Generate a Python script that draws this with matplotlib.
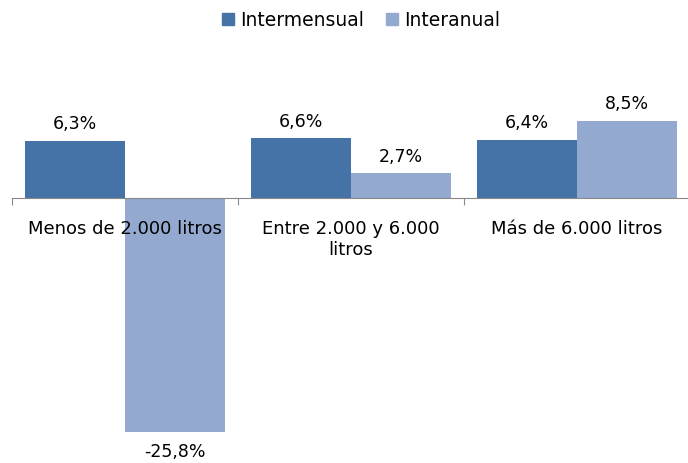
import matplotlib
matplotlib.use("Agg")
import matplotlib.pyplot as plt
import numpy as np
from matplotlib.patches import Patch

categories = ["Menos de 2.000 litros", "Entre 2.000 y 6.000\nlitros", "Más de 6.000 litros"]
intermensual = [6.3, 6.6, 6.4]
interanual = [-25.8, 2.7, 8.5]
series_names = ["Intermensual", "Interanual"]
colors = ["#4572A7", "#93A9CF"]

plt.rcParams['font.family'] = ['DejaVu Sans']
fig = plt.figure(figsize=(6.88, 4.64), dpi=100)
ax = fig.add_axes([12/688, (464-453)/464, 678/688, (453-108)/464])

x = np.arange(len(categories))
w = 100/226
b1 = ax.bar(x - w/2, intermensual, w, color=colors[0])
b2 = ax.bar(x + w/2, interanual, w, color=colors[1])

def fmt(v):
    return f"{v:.1f}%".replace(".", ",")

for bars, vals in ((b1, intermensual), (b2, interanual)):
    for r, v in zip(bars, vals):
        cx = r.get_x() + r.get_width()/2
        if v >= 0:
            ax.annotate(fmt(v), (cx, v), xytext=(0, 6), textcoords="offset points",
                        ha="center", va="bottom", fontsize=12.5)
        else:
            ax.annotate(fmt(v), (cx, v), xytext=(0, -7), textcoords="offset points",
                        ha="center", va="top", fontsize=12.5)

ax.set_xlim(-0.5, 2.5)
ax.set_ylim(-28, 10)
for s in ["top", "right", "left"]:
    ax.spines[s].set_visible(False)
ax.spines["bottom"].set_position(("data", 0))
ax.spines["bottom"].set_color("#888888")
ax.set_yticks([])
ax.set_xticks([-0.5, 0.5, 1.5, 2.5])
ax.set_xticklabels([])
ax.tick_params(axis="x", direction="out", length=5, color="#888888")
for i, c in enumerate(categories):
    ax.text(i, -2.3, c, ha="center", va="top", fontsize=13,
            linespacing=1.25, zorder=5)

handles = [Patch(color=colors[0], label=series_names[0]), Patch(color=colors[1], label=series_names[1])]
fig.legend(handles=handles, loc="center", bbox_to_anchor=(361/688, 1 - 21/464), ncol=2,
           frameon=False, fontsize=13.5, handlelength=0.65, handleheight=0.65,
           handletextpad=0.3, columnspacing=1.2)

fig.savefig("out.png", dpi=100)
